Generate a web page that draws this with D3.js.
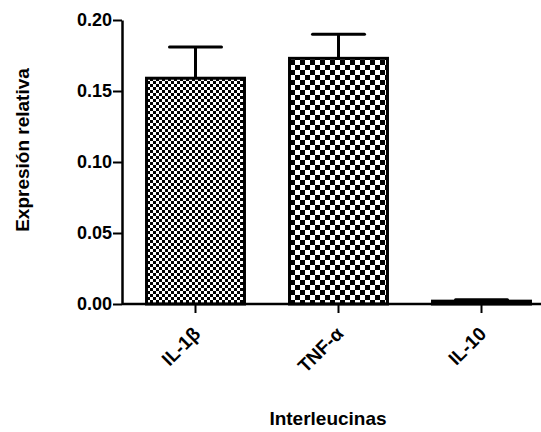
<!DOCTYPE html>
<html>
<head>
<meta charset="utf-8">
<script src="https://cdn.jsdelivr.net/npm/d3@7"></script>
<style>
  body { margin: 0; background: #fff; }
  text { font-family: "Liberation Sans", Arial, sans-serif; font-weight: bold; }
</style>
</head>
<body>
<div id="chart"></div>
<script>
var categories = ['IL-1β', 'TNF-α', 'IL-10']
var values = [0.159, 0.173, 0.002]
var errors = [0.022, 0.017, 0.001]
var yTicks = [0.00, 0.05, 0.10, 0.15, 0.20]

var width = 541
var height = 432
var x0 = 122, y0 = 304, yTop = 20

var svg = d3.select('#chart')
  .append('svg')
    .attr('width', width)
    .attr('height', height)

// fill patterns (checkerboards)
var defs = svg.append('defs')
var patSizes = [3, 5, 2]
patSizes.forEach(function(s, i) {
  var p = defs.append('pattern')
    .attr('id', 'pat' + i)
    .attr('patternUnits', 'userSpaceOnUse')
    .attr('width', s * 2)
    .attr('height', s * 2)
  p.append('rect').attr('width', s * 2).attr('height', s * 2).attr('fill', '#fff')
  p.append('rect').attr('width', s).attr('height', s).attr('fill', '#000')
  p.append('rect').attr('x', s).attr('y', s).attr('width', s).attr('height', s).attr('fill', '#000')
})

var x = d3.scaleBand()
  .domain(categories)
  .range([x0 + 2, x0 + 2 + 143 * 3])
  .paddingInner(0.315)
  .paddingOuter(0.1575)

var y = d3.scaleLinear()
  .domain([0, 0.20])
  .range([y0, yTop])

// bars
svg.selectAll('.bar')
  .data(values)
  .enter()
  .append('rect')
    .attr('class', 'bar')
    .attr('x', function(d, i) { return x(categories[i]) })
    .attr('y', function(d) { return y(d) })
    .attr('width', x.bandwidth())
    .attr('height', function(d) { return y(0) - y(d) })
    .attr('fill', function(d, i) { return 'url(#pat' + i + ')' })
    .attr('stroke', '#000')
    .attr('stroke-width', 3)

// error bars (upper only)
var capW = 52
values.forEach(function(v, i) {
  var cx = x(categories[i]) + x.bandwidth() / 2
  svg.append('line')
    .attr('x1', cx).attr('x2', cx)
    .attr('y1', y(v)).attr('y2', y(v + errors[i]))
    .attr('stroke', '#000').attr('stroke-width', 3)
  svg.append('line')
    .attr('x1', cx - capW / 2).attr('x2', cx + capW / 2)
    .attr('y1', y(v + errors[i])).attr('y2', y(v + errors[i]))
    .attr('stroke', '#000').attr('stroke-width', 3)
    .attr('stroke-linecap', 'round')
})

// y axis
var yAxis = svg.append('g')
  .attr('transform', 'translate(' + x0 + ',0)')
  .call(d3.axisLeft(y).tickValues(yTicks).tickFormat(d3.format('.2f')).tickSize(9).tickSizeOuter(0))
yAxis.select('.domain').attr('stroke-width', 2.5)
yAxis.selectAll('.tick line').attr('stroke-width', 2)
yAxis.selectAll('.tick text').style('font-size', '18px').attr('x', -10).attr('fill', '#000')

// x axis
var xAxis = svg.append('g')
  .attr('transform', 'translate(0,' + y0 + ')')
  .call(d3.axisBottom(x).tickSize(9).tickSizeOuter(0))
xAxis.select('.domain').attr('stroke-width', 2.5).attr('d', 'M' + x0 + ',0H' + width)
xAxis.selectAll('.tick line').attr('stroke-width', 2)
xAxis.selectAll('.tick text')
  .style('font-size', '19px')
  .style('text-anchor', 'end')
  .attr('fill', '#000')
  .attr('y', 0).attr('dy', 0)
  .attr('transform', 'translate(6,31) rotate(-45)')

// axis titles
svg.append('text')
  .attr('transform', 'translate(29,150) rotate(-90)')
  .style('text-anchor', 'middle')
  .style('font-size', '19px')
  .text('Expresión relativa')

svg.append('text')
  .attr('x', 328)
  .attr('y', 425)
  .style('text-anchor', 'middle')
  .style('font-size', '19px')
  .text('Interleucinas')
</script>
</body>
</html>
